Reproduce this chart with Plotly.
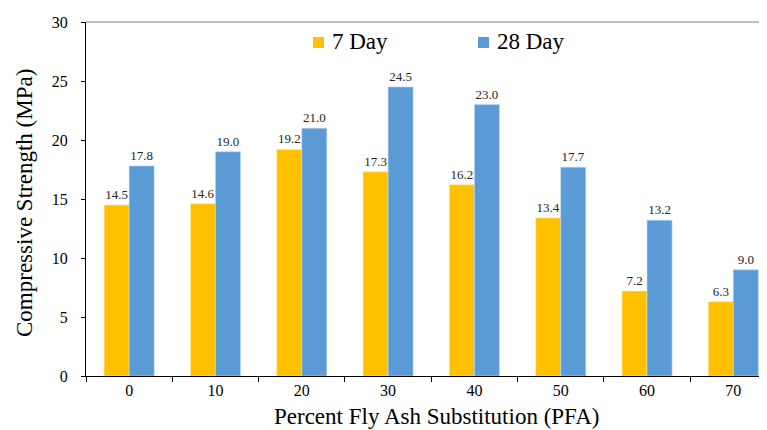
import plotly.graph_objects as go

categories = ["0", "10", "20", "30", "40", "50", "60", "70"]
day7 = [14.5, 14.6, 19.2, 17.3, 16.2, 13.4, 7.2, 6.3]
day28 = [17.8, 19.0, 21.0, 24.5, 23.0, 17.7, 13.2, 9.0]
y_ticks = [0, 5, 10, 15, 20, 25, 30]
series_names = ["7 Day", "28 Day"]
series_colors = ["#FFC000", "#5B9BD5"]
x_title = "Percent Fly Ash Substitution (PFA)"
y_title = "Compressive Strength (MPa)"

FONT = "Liberation Serif, Times New Roman, serif"

fig = go.Figure()
for name, vals, col, edge in [(series_names[0], day7, series_colors[0], "#FFE9A8"),
                              (series_names[1], day28, series_colors[1], "#BDD7EE")]:
    fig.add_trace(go.Bar(
        x=categories, y=vals, name=name,
        marker=dict(color=col, line=dict(color=edge, width=0.6)),
        text=[f"{v:.1f}" for v in vals], textposition="outside",
        constraintext="none",
        textfont=dict(family=FONT, size=13, color="#262626"), cliponaxis=False,
    ))

# page has an 8px body margin, so the figure itself is 759x422
fig.update_layout(
    width=759, height=422,
    margin=dict(l=78, r=0, t=14, b=54, autoexpand=False),
    plot_bgcolor="white", paper_bgcolor="white",
    barmode="group", bargap=0.42, bargroupgap=0,
    font=dict(family=FONT, color="#000000"),
    showlegend=False,
    xaxis=dict(
        type="category", range=[-0.5, 7.39],
        showline=True, linecolor="#000000", linewidth=1.2,
        ticks="outside", ticklen=5, tickcolor="#000000", tickson="boundaries",
        tickfont=dict(family=FONT, size=16),
        showgrid=False,
    ),
    yaxis=dict(
        range=[0, 30], tickvals=y_ticks,
        showline=True, linecolor="#000000", linewidth=1.2,
        ticks="outside", ticklen=4, tickcolor="#000000",
        tickfont=dict(family=FONT, size=16), ticklabelstandoff=10,
        showgrid=False, zeroline=False,
    ),
)
fig.add_shape(type="line", xref="paper", yref="paper", x0=0, x1=1.02, y0=1, y1=1,
              line=dict(color="#7F7F7F", width=1.2))

# page-pixel positions converted to paper coords
pl, pw, pt, ph = 86, 681, 22, 354
def px(x):
    return (x - pl) / pw
def py(y):
    return (pt + ph - y) / ph

# axis titles
fig.add_annotation(xref="paper", yref="paper", x=px(436.5), y=py(416),
                   xanchor="center", yanchor="middle", showarrow=False,
                   text=x_title, font=dict(family=FONT, size=23, color="#000000"))
fig.add_annotation(xref="paper", yref="paper", x=px(24), y=py(203),
                   xanchor="center", yanchor="middle", showarrow=False, textangle=-90,
                   text=y_title, font=dict(family=FONT, size=23, color="#000000"))

# custom legend
legend_sq_x = [313, 478]
legend_tx_x = [330, 495]
for name, col, sx, tx in zip(series_names, series_colors, legend_sq_x, legend_tx_x):
    fig.add_shape(type="rect", xref="paper", yref="paper",
                  x0=px(sx), x1=px(sx + 11), y0=py(48), y1=py(37),
                  fillcolor=col, line=dict(width=0))
    fig.add_annotation(xref="paper", yref="paper", x=px(tx), y=py(41),
                       xanchor="left", yanchor="middle", showarrow=False,
                       text=name, font=dict(family=FONT, size=23, color="#000000"))

fig.write_html("out.html")
